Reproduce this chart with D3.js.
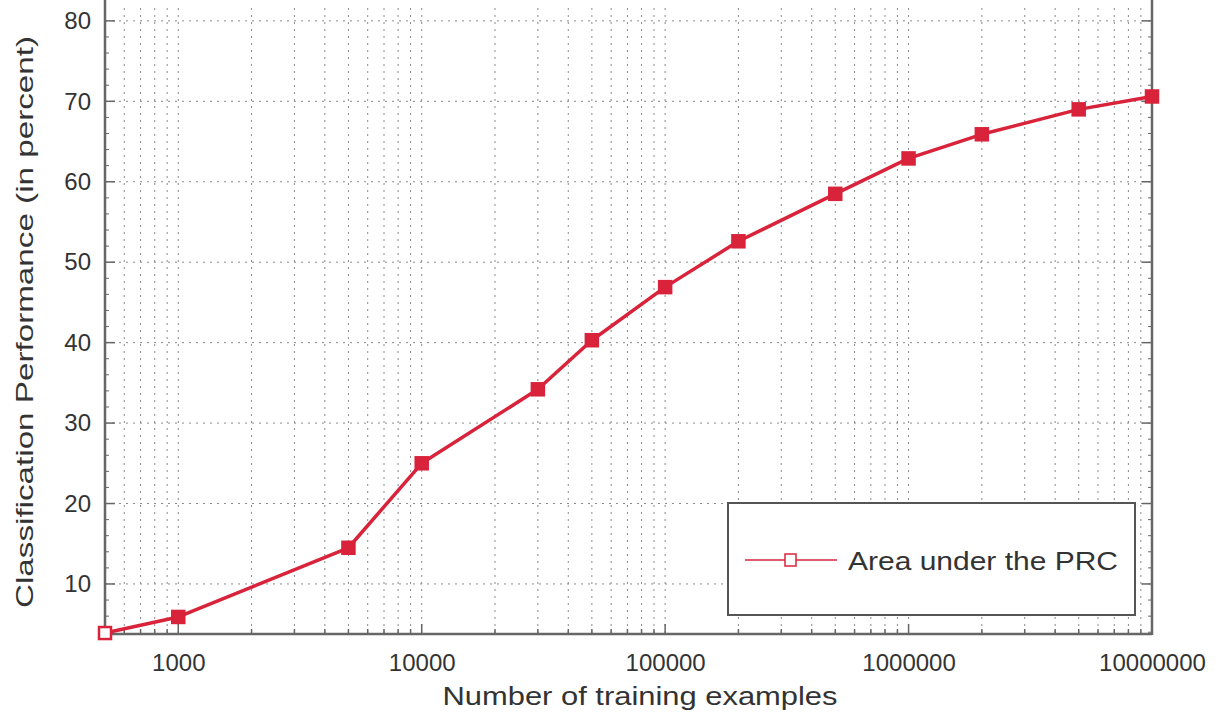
<!DOCTYPE html>
<html>
<head>
<meta charset="utf-8">
<script src="https://cdn.jsdelivr.net/npm/d3@7"></script>
<style>
  html, body { margin: 0; padding: 0; background: #fff; }
  svg { display: block; }
  text { font-family: "Liberation Sans", Arial, sans-serif; fill: #333; }
</style>
</head>
<body>
<svg id="chart" width="1218" height="712"></svg>
<script>
// ---- data ----
const trainingExamples = [500, 1000, 5000, 10000, 30000, 50000, 100000, 200000, 500000, 1000000, 2000000, 5000000, 10000000];
const areaUnderPRC = [3.9, 5.9, 14.5, 25.0, 34.2, 40.3, 46.9, 52.6, 58.5, 62.9, 65.9, 69.0, 70.6];
const xTickValues = [1000, 10000, 100000, 1000000, 10000000];
const yTickValues = [10, 20, 30, 40, 50, 60, 70, 80];
const seriesName = "Area under the PRC";
const xLabel = "Number of training examples";
const yLabel = "Classification Performance (in percent)";

(function () {
// ---- layout ----
const pLeft = 105, pRight = 1152, pTop = 8, pBottom = 634;
const svg = d3.select("#chart");

const x = d3.scaleLog().domain([500, 10000000]).range([pLeft, pRight]);
const y = d3.scaleLinear().domain([3.78, 81.6]).range([pBottom, pTop]);

const red = "#d8233b";

// minor x positions (2..9 per decade) inside the domain
const xMinor = [];
for (let e = 2; e <= 7; e++) {
  for (let m = 1; m <= 9; m++) {
    const v = m * Math.pow(10, e);
    if (v >= 500 && v <= 10000000) xMinor.push(v);
  }
}
const yMinor = d3.range(4, 81.6, 2).filter(v => v % 10 !== 0);

// grid
const grid = svg.append("g");
grid.selectAll("line.vx").data(xMinor).join("line")
  .attr("x1", d => x(d)).attr("x2", d => x(d))
  .attr("y1", pTop).attr("y2", pBottom)
  .attr("stroke", "#8a8a8a").attr("stroke-width", 1)
  .attr("stroke-dasharray", "2,5");
grid.selectAll("line.hy").data(yTickValues).join("line")
  .attr("x1", pLeft).attr("x2", pRight)
  .attr("y1", d => y(d)).attr("y2", d => y(d))
  .attr("stroke", "#8a8a8a").attr("stroke-width", 1)
  .attr("stroke-dasharray", "2,5");

// axes
const axisColor = "#666";
const xAxisB = d3.axisBottom(x).tickValues(xTickValues).tickFormat(d3.format("d")).tickSize(0).tickPadding(20);
const gx = svg.append("g").attr("transform", `translate(0,${pBottom})`).call(xAxisB);
gx.select(".domain").remove();
gx.selectAll("text").attr("font-size", 24).attr("fill", "#333");

const yAxisL = d3.axisLeft(y).tickValues(yTickValues).tickSize(0).tickPadding(14);
const gy = svg.append("g").attr("transform", `translate(${pLeft},0)`).call(yAxisL);
gy.select(".domain").remove();
gy.selectAll("text").attr("font-size", 24).attr("fill", "#333");

// tick marks (inward)
const ticks = svg.append("g").attr("stroke", axisColor).attr("stroke-width", 1.5);
ticks.selectAll("line.yl").data(yTickValues).join("line")
  .attr("x1", pLeft).attr("x2", pLeft + 10).attr("y1", d => y(d)).attr("y2", d => y(d));
ticks.selectAll("line.yr").data(yTickValues).join("line")
  .attr("x1", pRight).attr("x2", pRight - 10).attr("y1", d => y(d)).attr("y2", d => y(d));
ticks.selectAll("line.yml").data(yMinor).join("line")
  .attr("x1", pLeft).attr("x2", pLeft + 4).attr("y1", d => y(d)).attr("y2", d => y(d)).attr("stroke-width", 1);
ticks.selectAll("line.ymr").data(yMinor).join("line")
  .attr("x1", pRight).attr("x2", pRight - 4).attr("y1", d => y(d)).attr("y2", d => y(d)).attr("stroke-width", 1);
ticks.selectAll("line.xb").data(xMinor).join("line")
  .attr("x1", d => x(d)).attr("x2", d => x(d))
  .attr("y1", pBottom).attr("y2", d => pBottom - (xTickValues.includes(d) ? 10 : 5));

// axis box lines
svg.append("line").attr("x1", pLeft).attr("x2", pLeft).attr("y1", 0).attr("y2", pBottom + 1)
  .attr("stroke", axisColor).attr("stroke-width", 2.5);
svg.append("line").attr("x1", pRight).attr("x2", pRight).attr("y1", 0).attr("y2", pBottom + 1)
  .attr("stroke", axisColor).attr("stroke-width", 2.5);
svg.append("line").attr("x1", pLeft).attr("x2", pRight).attr("y1", pBottom).attr("y2", pBottom)
  .attr("stroke", axisColor).attr("stroke-width", 2.5);

// data line
const line = d3.line().x((d, i) => x(trainingExamples[i])).y(d => y(d));
svg.append("path").datum(areaUnderPRC)
  .attr("d", line).attr("fill", "none")
  .attr("stroke", red).attr("stroke-width", 3.5).attr("stroke-linejoin", "round");

const ms = 12;
svg.selectAll("rect.pt").data(areaUnderPRC).join("rect")
  .attr("x", (d, i) => x(trainingExamples[i]) - ms / 2)
  .attr("y", d => y(d) - ms / 2)
  .attr("width", ms).attr("height", ms)
  .attr("fill", (d, i) => i === 0 ? "#fff" : red)
  .attr("stroke", red).attr("stroke-width", 2.5);

// legend
const lg = svg.append("g");
lg.append("rect").attr("x", 728).attr("y", 503).attr("width", 407).attr("height", 112)
  .attr("fill", "#fff").attr("stroke", "#555").attr("stroke-width", 2);
lg.append("line").attr("x1", 745).attr("x2", 837).attr("y1", 560).attr("y2", 560)
  .attr("stroke", red).attr("stroke-width", 1.5);
lg.append("rect").attr("x", 785).attr("y", 554).attr("width", 11).attr("height", 12)
  .attr("fill", "#fff").attr("stroke", red).attr("stroke-width", 1.5);
lg.append("text").attr("x", 848).attr("y", 570).attr("font-size", 25)
  .attr("textLength", 270).attr("lengthAdjust", "spacingAndGlyphs")
  .text(seriesName);

// axis labels
svg.append("text").attr("x", 640).attr("y", 705).attr("text-anchor", "middle")
  .attr("font-size", 25).attr("textLength", 395).attr("lengthAdjust", "spacingAndGlyphs")
  .text(xLabel);
svg.append("text").attr("transform", "translate(33,322) rotate(-90)")
  .attr("text-anchor", "middle").attr("font-size", 24)
  .attr("textLength", 572).attr("lengthAdjust", "spacingAndGlyphs")
  .text(yLabel);
})();
</script>
</body>
</html>
